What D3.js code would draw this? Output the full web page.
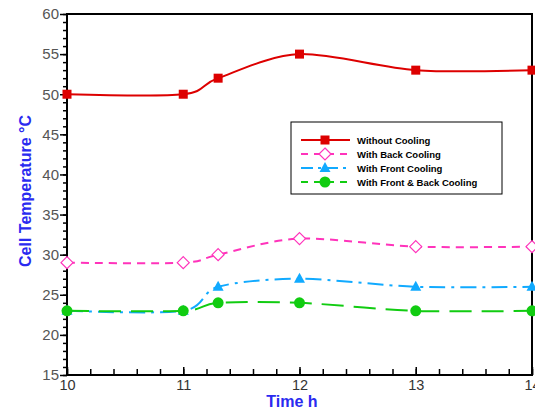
<!DOCTYPE html>
<html>
<head>
<meta charset="utf-8">
<script src="https://cdn.jsdelivr.net/npm/d3@7/dist/d3.min.js"></script>
<style>
body { margin: 0; background: #fff; }
svg { display: block; font-family: Arial, "Liberation Sans", sans-serif; }
</style>
</head>
<body>
<div class="chart"></div>
<script>
// data
var times = [10, 11, 11.3, 12, 13, 14];
var withoutCooling = [50, 50, 52, 55, 53, 53];
var backCooling = [29, 29, 30, 32, 31, 31];
var frontCooling = [23, 23, 26, 27, 26, 26];
var frontBackCooling = [23, 23, 24, 24, 23, 23];
var seriesNames = ["Without Cooling", "With Back Cooling", "With Front Cooling", "With Front & Back Cooling"];
var xTicks = [10, 11, 12, 13, 14];
var yTicks = [15, 20, 25, 30, 35, 40, 45, 50, 55, 60];

var w = 535, h = 412;
var plotLeft = 67, plotRight = 532, plotTop = 14, plotBottom = 375;

var series = [
	{name: seriesNames[0], values: withoutCooling, color: "#dd0000", dash: null, marker: "square"},
	{name: seriesNames[1], values: backCooling, color: "#ff33bb", dash: "8,6", marker: "diamond"},
	{name: seriesNames[2], values: frontCooling, color: "#11aaff", dash: "16,6,3,6", marker: "triangle"},
	{name: seriesNames[3], values: frontBackCooling, color: "#11cc11", dash: "22,10", marker: "circle"}
];

var svg = d3.select(".chart").append("svg")
	.attr("width", w)
	.attr("height", h);

var x = d3.scaleLinear().domain([10, 14]).range([plotLeft, plotRight]);
var y = d3.scaleLinear().domain([15, 60]).range([plotBottom, plotTop]);

// minor ticks
svg.append("g")
	.attr("transform", "translate(0," + plotBottom + ")")
	.call(d3.axisBottom(x).ticks(20).tickSize(-6).tickFormat(""))
	.call(function(g){ g.select(".domain").remove(); });
svg.append("g")
	.attr("transform", "translate(" + plotLeft + ",0)")
	.call(d3.axisLeft(y).ticks(45).tickSize(4).tickFormat(""))
	.call(function(g){ g.select(".domain").remove(); });

// major ticks + labels
var xAxis = svg.append("g")
	.attr("transform", "translate(0," + plotBottom + ")")
	.call(d3.axisBottom(x).tickValues(xTicks).tickSize(-8).tickPadding(3).tickFormat(d3.format("d")));
xAxis.select(".domain").remove();
xAxis.selectAll("text").attr("y", 3).attr("dy", "0.8em").style("font-size", "14.5px").attr("fill", "#333");

var yAxis = svg.append("g")
	.attr("transform", "translate(" + plotLeft + ",0)")
	.call(d3.axisLeft(y).tickValues(yTicks).tickSize(7).tickPadding(1).tickFormat(d3.format("d")));
yAxis.select(".domain").remove();
yAxis.selectAll("text").style("font-size", "15px").attr("fill", "#555");

svg.selectAll(".tick line").attr("stroke", "#000").attr("stroke-width", 1.5);

// frame
svg.append("rect")
	.attr("x", plotLeft).attr("y", plotTop)
	.attr("width", plotRight - plotLeft).attr("height", plotBottom - plotTop)
	.attr("fill", "none").attr("stroke", "#000").attr("stroke-width", 2);

var line = d3.line()
	.x(function(d){ return x(d[0]); })
	.y(function(d){ return y(d[1]); })
	.curve(d3.curveCardinal.tension(0.1));

function drawMarker(g, type, color, px, py){
	if(type == "square"){
		g.append("rect").attr("x", px - 4.5).attr("y", py - 4.5).attr("width", 9).attr("height", 9).attr("fill", color);
	} else if(type == "diamond"){
		g.append("path").attr("d", "M" + px + "," + (py - 6) + "L" + (px + 6) + "," + py + "L" + px + "," + (py + 6) + "L" + (px - 6) + "," + py + "Z")
			.attr("fill", "#fff").attr("stroke", color).attr("stroke-width", 1.2);
	} else if(type == "triangle"){
		g.append("path").attr("d", "M" + px + "," + (py - 6) + "L" + (px + 5.5) + "," + (py + 4) + "L" + (px - 5.5) + "," + (py + 4) + "Z")
			.attr("fill", color);
	} else {
		g.append("circle").attr("cx", px).attr("cy", py).attr("r", 5.5).attr("fill", color);
	}
}

series.forEach(function(s){
	var pts = times.map(function(t, i){ return [t, s.values[i]]; });
	var g = svg.append("g");
	g.append("path")
		.attr("d", line(pts))
		.attr("fill", "none")
		.attr("stroke", s.color)
		.attr("stroke-width", 2)
		.attr("stroke-dasharray", s.dash);
	pts.forEach(function(p){
		drawMarker(g, s.marker, s.color, x(p[0]), y(p[1]));
	});
});

// legend
var lg = svg.append("g");
lg.append("rect")
	.attr("x", 291).attr("y", 122).attr("width", 211).attr("height", 72)
	.attr("fill", "#fff").attr("stroke", "#000").attr("stroke-width", 1);
series.forEach(function(s, i){
	var ly = 140 + i * 14;
	lg.append("line")
		.attr("x1", 301).attr("x2", 350).attr("y1", ly).attr("y2", ly)
		.attr("stroke", s.color).attr("stroke-width", 2)
		.attr("stroke-dasharray", s.dash ? (i == 2 ? "12,5,3,5" : "7,6") : null);
	drawMarker(lg, s.marker, s.color, 325, ly);
	lg.append("text")
		.attr("x", 357).attr("y", ly + 3.5)
		.style("font-size", "9.5px").style("font-weight", "bold")
		.text(s.name);
});

// axis titles
svg.append("text")
	.attr("x", 292).attr("y", 407)
	.attr("text-anchor", "middle")
	.style("font-size", "16px").style("font-weight", "bold").attr("fill", "#2a2af0")
	.text("Time h");
svg.append("text")
	.attr("transform", "translate(31,191) rotate(-90)")
	.attr("text-anchor", "middle")
	.style("font-size", "16px").style("font-weight", "bold").attr("fill", "#2a2af0")
	.text("Cell Temperature \u00b0C");
</script>
</body>
</html>
